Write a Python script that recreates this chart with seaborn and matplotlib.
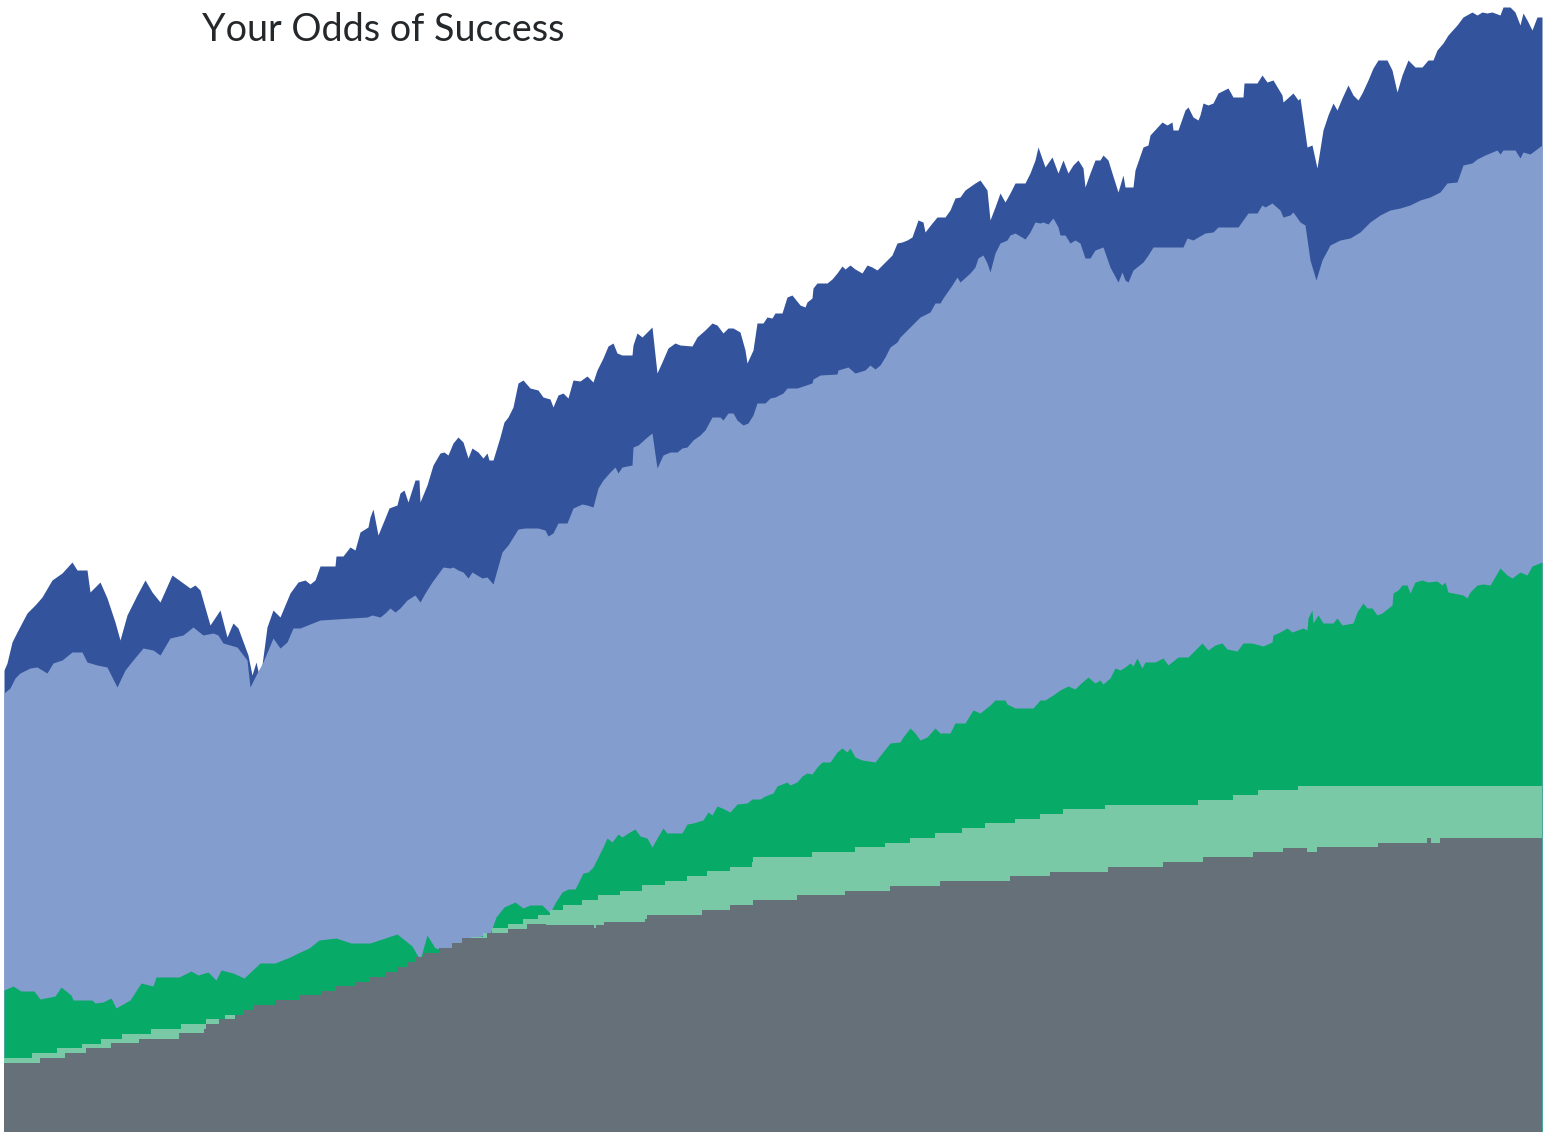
import numpy as np
import matplotlib
matplotlib.use("Agg")
import matplotlib.pyplot as plt
import seaborn as sns

# --- data (x = time index, values = cumulative level) ---

# top layer (dark blue)
dark_x = [4, 7, 12, 17, 27, 35, 42, 52, 62, 72, 77, 87, 90, 100, 107, 115, 120, 127, 137, 145,
          152, 160, 172, 190, 195, 200, 210, 220, 227, 233, 238, 248, 252, 256, 260, 267, 273, 280, 290, 298,
          305, 310, 315, 320, 335, 336, 343, 350, 355, 360, 368, 370, 373, 378, 385, 389, 397, 400, 404, 408,
          415, 419, 420, 427, 433, 440, 444, 448, 453, 458, 463, 468, 472, 478, 483, 487, 489, 493, 500, 504,
          508, 513, 518, 523, 530, 538, 543, 550, 553, 558, 563, 568, 573, 580, 587, 593, 597, 603, 608, 613,
          617, 622, 632, 633, 637, 642, 647, 652, 657, 662, 668, 675, 680, 692, 697, 705, 712, 717, 723, 728,
          733, 740, 745, 747, 753, 757, 763, 767, 772, 775, 782, 787, 792, 800, 805, 807, 812, 813, 817, 827,
          832, 837, 842, 845, 850, 855, 862, 867, 872, 877, 882, 887, 892, 897, 902, 907, 912, 918, 923, 925,
          932, 937, 945, 950, 955, 960, 965, 975, 980, 987, 990, 995, 1000, 1005, 1010, 1015, 1025, 1030, 1035, 1038,
          1045, 1052, 1058, 1063, 1068, 1073, 1078, 1083, 1085, 1090, 1095, 1100, 1103, 1108, 1112, 1118, 1123, 1125, 1133, 1135,
          1143, 1148, 1150, 1162, 1167, 1172, 1173, 1178, 1185, 1188, 1193, 1198, 1200, 1203, 1208, 1213, 1218, 1228, 1233, 1243,
          1244, 1257, 1262, 1267, 1273, 1282, 1283, 1293, 1298, 1300, 1307, 1312, 1317, 1323, 1328, 1333, 1337, 1342, 1348, 1353,
          1358, 1362, 1368, 1373, 1378, 1387, 1392, 1397, 1402, 1408, 1415, 1422, 1428, 1433, 1437, 1443, 1448, 1457, 1463, 1472,
          1477, 1482, 1487, 1492, 1500, 1503, 1510, 1515, 1520, 1523, 1527, 1532, 1537, 1542]
dark_v = [462, 469, 490, 500, 519, 527, 535, 552, 559, 570, 562, 562, 540, 550, 534, 510, 492, 517, 537, 552,
          540, 530, 557, 544, 547, 542, 507, 522, 495, 509, 504, 477, 457, 470, 452, 505, 522, 515, 539, 550,
          552, 548, 552, 566, 566, 576, 576, 585, 582, 600, 605, 615, 623, 597, 614, 624, 627, 639, 642, 630,
          652, 652, 630, 647, 667, 679, 680, 677, 689, 695, 690, 674, 684, 680, 674, 679, 672, 672, 695, 710,
          715, 725, 749, 752, 744, 742, 735, 733, 725, 737, 739, 734, 752, 751, 756, 750, 762, 774, 786, 789,
          779, 777, 777, 787, 799, 795, 800, 805, 759, 770, 784, 789, 787, 786, 795, 802, 809, 807, 799, 804,
          804, 800, 782, 769, 782, 809, 809, 815, 814, 819, 819, 835, 837, 827, 825, 830, 834, 844, 849, 849,
          853, 859, 866, 863, 867, 863, 859, 867, 865, 862, 867, 872, 877, 889, 890, 892, 895, 912, 910, 900,
          909, 915, 915, 922, 934, 935, 942, 949, 952, 942, 912, 925, 939, 930, 939, 949, 949, 959, 972, 985,
          965, 975, 959, 972, 959, 967, 972, 964, 945, 959, 972, 972, 977, 972, 959, 940, 957, 945, 945, 962,
          985, 987, 997, 1010, 1007, 1010, 1002, 1002, 1022, 1025, 1015, 1012, 1017, 1029, 1027, 1029, 1039, 1044, 1035, 1035,
          1049, 1049, 1057, 1050, 1052, 1037, 1030, 1039, 1032, 1034, 985, 987, 964, 1002, 1017, 1029, 1022, 1034, 1047, 1037,
          1032, 1039, 1052, 1064, 1072, 1072, 1062, 1040, 1057, 1072, 1065, 1065, 1072, 1072, 1082, 1089, 1097, 1107, 1115, 1120,
          1117, 1120, 1119, 1120, 1117, 1125, 1125, 1120, 1107, 1119, 1112, 1102, 1115, 1115]

# second layer (light blue)
light_blue_x = [4, 10, 15, 20, 30, 37, 47, 53, 62, 72, 82, 87, 97, 107, 117, 125, 133, 143, 153, 160,
                170, 183, 193, 203, 213, 218, 223, 237, 247, 250, 257, 263, 273, 280, 287, 293, 300, 320, 367, 372,
                380, 385, 390, 395, 400, 407, 415, 420, 425, 432, 443, 450, 453, 458, 463, 468, 472, 477, 482, 487,
                493, 502, 508, 518, 525, 538, 545, 548, 553, 558, 567, 573, 582, 587, 593, 598, 603, 610, 615, 618,
                622, 632, 633, 638, 647, 652, 657, 663, 670, 677, 682, 687, 693, 700, 705, 712, 720, 723, 728, 733,
                737, 743, 748, 753, 757, 765, 770, 775, 783, 787, 797, 800, 812, 813, 820, 837, 838, 848, 855, 865,
                870, 875, 880, 885, 890, 897, 900, 905, 915, 920, 930, 935, 940, 943, 952, 957, 960, 970, 975, 978,
                983, 987, 990, 995, 1000, 1007, 1010, 1015, 1025, 1030, 1035, 1040, 1043, 1048, 1053, 1058, 1060, 1065, 1070, 1075,
                1080, 1085, 1090, 1095, 1103, 1110, 1118, 1122, 1125, 1128, 1133, 1143, 1148, 1153, 1183, 1187, 1193, 1198, 1205, 1213,
                1218, 1238, 1243, 1248, 1257, 1262, 1265, 1272, 1280, 1283, 1290, 1293, 1300, 1305, 1310, 1316, 1322, 1330, 1340, 1350,
                1360, 1370, 1380, 1390, 1400, 1410, 1420, 1430, 1440, 1447, 1457, 1463, 1472, 1477, 1485, 1497, 1500, 1503, 1515, 1520,
                1523, 1530, 1542]
light_blue_v = [439, 444, 454, 459, 464, 465, 459, 469, 472, 480, 480, 470, 467, 465, 445, 462, 472, 484, 482, 477,
                494, 497, 505, 497, 499, 497, 489, 485, 472, 445, 459, 470, 494, 484, 490, 504, 504, 512, 515, 517,
                515, 519, 524, 520, 524, 532, 537, 530, 539, 550, 565, 564, 565, 562, 560, 554, 560, 557, 554, 555,
                548, 580, 587, 603, 604, 604, 602, 596, 599, 609, 609, 624, 628, 627, 625, 644, 652, 660, 665, 659,
                665, 667, 685, 687, 695, 699, 664, 677, 680, 680, 684, 685, 692, 697, 702, 715, 715, 712, 719, 719,
                712, 707, 709, 717, 729, 729, 734, 735, 739, 744, 744, 745, 749, 753, 757, 758, 762, 765, 759, 762,
                767, 763, 767, 775, 785, 790, 795, 800, 810, 815, 820, 829, 829, 834, 847, 855, 850, 859, 865, 874,
                877, 869, 860, 879, 889, 892, 897, 899, 893, 900, 910, 909, 910, 908, 914, 905, 897, 897, 889, 892,
                889, 874, 874, 882, 885, 865, 850, 860, 852, 850, 862, 870, 877, 885, 885, 894, 892, 895, 899, 900,
                905, 905, 912, 919, 919, 927, 925, 929, 922, 915, 917, 920, 910, 907, 872, 852, 872, 887, 892, 894,
                900, 910, 917, 922, 924, 927, 932, 935, 940, 949, 950, 967, 969, 973, 977, 982, 978, 982, 982, 974,
                980, 978, 987]

# third layer (green)
green_x = [4, 13, 21, 34, 40, 55, 61, 71, 73, 92, 95, 103, 111, 116, 130, 141, 153, 156, 179, 191,
           198, 208, 216, 221, 233, 244, 260, 275, 290, 298, 309, 319, 336, 351, 370, 382, 397, 412, 420, 427,
           435, 445, 460, 475, 483, 490, 496, 504, 515, 523, 530, 542, 550, 555, 562, 568, 575, 583, 588, 593,
           598, 603, 607, 612, 618, 622, 628, 635, 640, 647, 652, 657, 663, 667, 682, 687, 693, 703, 708, 712,
           717, 722, 730, 737, 747, 752, 760, 765, 773, 777, 787, 790, 797, 802, 807, 812, 817, 822, 830, 837,
           842, 847, 850, 855, 862, 875, 882, 890, 900, 903, 910, 915, 920, 927, 935, 940, 950, 955, 965, 973,
           980, 990, 995, 1005, 1007, 1015, 1033, 1040, 1045, 1053, 1060, 1068, 1075, 1080, 1088, 1095, 1100, 1103, 1110, 1115,
           1120, 1125, 1130, 1133, 1137, 1142, 1145, 1155, 1163, 1168, 1178, 1188, 1193, 1202, 1208, 1215, 1222, 1227, 1237, 1243,
           1252, 1263, 1272, 1273, 1280, 1287, 1292, 1303, 1307, 1308, 1312, 1313, 1318, 1323, 1333, 1337, 1342, 1353, 1357, 1363,
           1367, 1372, 1377, 1382, 1392, 1393, 1398, 1402, 1407, 1410, 1415, 1422, 1428, 1437, 1442, 1445, 1448, 1453, 1463, 1467,
           1470, 1477, 1483, 1490, 1493, 1500, 1507, 1512, 1520, 1527, 1532, 1542]
green_v = [142, 146, 141, 141, 133, 136, 145, 137, 132, 132, 129, 130, 134, 124, 132, 149, 146, 155, 155, 161,
           157, 160, 152, 162, 159, 154, 169, 169, 175, 179, 184, 192, 194, 189, 189, 193, 198, 186, 172, 197,
           184, 182, 188, 192, 197, 198, 215, 225, 230, 224, 227, 227, 219, 229, 240, 243, 243, 259, 260, 265,
           275, 285, 294, 290, 298, 295, 299, 303, 296, 294, 285, 294, 304, 299, 299, 308, 309, 312, 320, 317,
           326, 324, 320, 328, 329, 333, 333, 336, 339, 346, 350, 347, 350, 356, 359, 358, 365, 370, 370, 380,
           384, 380, 384, 375, 372, 370, 379, 389, 390, 395, 404, 399, 392, 395, 404, 399, 399, 409, 409, 422,
           419, 427, 432, 432, 428, 424, 424, 432, 432, 437, 442, 446, 443, 448, 455, 449, 452, 448, 454, 464,
           462, 465, 469, 466, 474, 464, 470, 470, 474, 467, 475, 475, 480, 489, 482, 487, 489, 483, 481, 489,
           489, 486, 490, 497, 500, 504, 500, 504, 502, 514, 522, 509, 517, 509, 509, 514, 507, 509, 520, 529,
           524, 524, 517, 519, 527, 539, 542, 547, 547, 539, 550, 552, 550, 551, 547, 550, 540, 539, 537, 534,
           540, 547, 548, 547, 552, 564, 557, 554, 560, 557, 566, 570]

# fourth layer (light green, stepped)
light_green_x = [4, 32, 36, 57, 63, 82, 88, 101, 107, 122, 126, 151, 153, 181, 185, 206, 210, 225, 227, 244,
                 245, 260, 261, 281, 282, 309, 310, 321, 336, 355, 370, 385, 397, 408, 416, 424, 439, 452, 462, 471,
                 483, 492, 508, 523, 538, 550, 563, 582, 598, 620, 642, 665, 687, 707, 730, 740, 752, 753, 777, 812,
                 815, 855, 858, 885, 887, 910, 912, 935, 937, 962, 963, 985, 987, 1015, 1017, 1040, 1043, 1063, 1065, 1105,
                 1108, 1198, 1200, 1233, 1234, 1258, 1259, 1298, 1302, 1542]
light_green_v = [74, 74, 79, 79, 84, 84, 88, 88, 93, 93, 98, 98, 103, 103, 108, 108, 113, 113, 117, 117,
                 122, 122, 127, 127, 132, 132, 136, 137, 141, 146, 150, 155, 160, 165, 170, 175, 179, 184, 189, 191,
                 195, 199, 204, 208, 213, 217, 222, 227, 232, 237, 241, 247, 251, 256, 261, 265, 265, 270, 275, 275,
                 280, 280, 285, 285, 289, 289, 294, 294, 299, 299, 304, 304, 309, 309, 313, 313, 318, 318, 323, 323,
                 327, 327, 332, 332, 337, 337, 342, 342, 346, 346]

# bottom layer (grey, stepped)
grey_x = [4, 40, 42, 65, 67, 86, 90, 111, 115, 139, 143, 179, 183, 204, 206, 219, 235, 244, 254, 275,
          300, 321, 336, 355, 370, 385, 397, 408, 416, 424, 439, 452, 462, 487, 508, 527, 546, 557, 594, 596,
          604, 645, 647, 677, 702, 703, 730, 732, 753, 755, 797, 800, 845, 848, 890, 895, 940, 942, 1010, 1012,
          1050, 1051, 1108, 1110, 1163, 1168, 1203, 1208, 1253, 1258, 1283, 1288, 1307, 1308, 1317, 1318, 1378, 1382, 1427, 1428,
          1431, 1432, 1440, 1442, 1542]
grey_v = [69, 69, 74, 74, 79, 79, 84, 84, 89, 89, 93, 93, 99, 99, 103, 108, 113, 117, 122, 127,
          132, 137, 141, 146, 150, 155, 160, 165, 170, 175, 179, 184, 189, 194, 199, 203, 208, 207, 207, 204,
          207, 210, 213, 217, 217, 222, 222, 227, 227, 232, 232, 237, 237, 241, 241, 246, 246, 251, 251, 256,
          256, 260, 260, 265, 265, 270, 270, 275, 275, 280, 280, 284, 284, 280, 280, 285, 285, 289, 289, 294,
          294, 289, 289, 294, 294]

# (x, values, colour, step style) drawn back to front
layers = [
    (dark_x, dark_v, "#33539c", None),
    (light_blue_x, light_blue_v, "#839dcf", None),
    (green_x, green_v, "#08aa68", None),
    (light_green_x, light_green_v, "#79c8a6", "pre"),
    (grey_x, grey_v, "#667078", "pre"),
]

sns.set_theme(style="white")
plt.rcParams["font.family"] = ["Lato", "DejaVu Sans"]

fig = plt.figure(figsize=(15.53, 11.32), dpi=100)
ax = fig.add_axes([4 / 1553, 0, 1538 / 1553, 1])

for xs, vs, col, st in layers:
    ax.fill_between(xs, 0, vs, color=col, linewidth=0, step=st)

ax.set_xlim(4, 1542)
ax.set_ylim(0, 1132)
ax.axis("off")

fig.text(383 / 1553, 1 - 41 / 1132, "Your Odds of Success", ha="center", va="baseline",
         fontsize=27.2, color="#25282b")

fig.savefig("out.png", dpi=100)
